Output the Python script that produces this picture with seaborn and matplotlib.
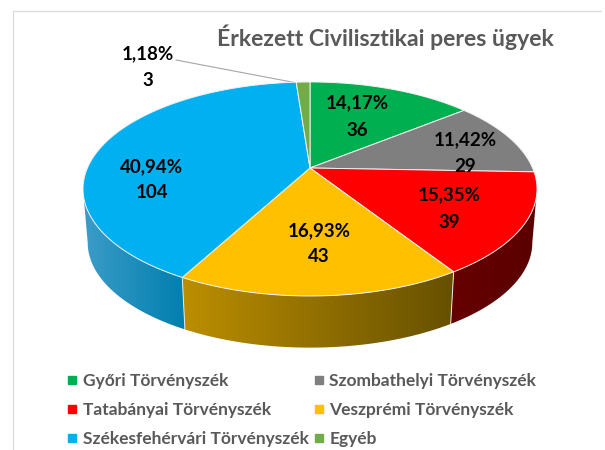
import numpy as np
import matplotlib
matplotlib.use('Agg')
import matplotlib.pyplot as plt
from matplotlib.patches import Polygon
from matplotlib.lines import Line2D
import seaborn as sns

title = 'Érkezett Civilisztikai peres ügyek'
courts = ['Győri Törvényszék', 'Szombathelyi Törvényszék', 'Tatabányai Törvényszék',
          'Veszprémi Törvényszék', 'Székesfehérvári Törvényszék', 'Egyéb']
counts = [36, 29, 39, 43, 104, 3]
percents = ['14,17%', '11,42%', '15,35%', '16,93%', '40,94%', '1,18%']
colors = ['#00B050', '#7F7F7F', '#FF0000', '#FFC000', '#00B0F0', '#70AD47']
# left and right shade of the pie's rim
side_left = ['#00B050', '#7F7F7F', '#660000', '#BC8E00', '#3C9CC8', '#70AD47']
side_right = ['#00B050', '#7F7F7F', '#5A0000', '#665000', '#007FAE', '#70AD47']

W, H = 605, 450
CX, CY = 310, 168
PERSP = 0.196


def rim(t, bottom=False):
    # circle seen in perspective, t clockwise from the back of the pie
    w = 1 + PERSP * np.cos(t)
    if bottom:
        return CX + 218 * np.sin(t) / w, CY + 54 - 101 * np.cos(t) / w
    return CX + 222.6 * np.sin(t) / w, CY - 102.9 * np.cos(t) / w


sns.set_theme(style='white')
plt.rcParams['font.family'] = ['Lato', 'DejaVu Sans']

fig = plt.figure(figsize=(W / 100, H / 100), dpi=100)
ax = fig.add_axes([0, 0, 1, 1])
ax.set_xlim(0, W)
ax.set_ylim(H, 0)
ax.axis('off')

palette = sns.color_palette(colors)
edges = np.cumsum([0] + counts) / sum(counts) * 2 * np.pi
# where the outline of the pie is widest, the rim starts there
t_side = np.pi / 2 + np.arcsin(PERSP)

for i in range(len(counts)):
    a = max(edges[i], t_side)
    b = min(edges[i + 1], 2 * np.pi - t_side)
    if a >= b:
        continue
    t = np.linspace(a, b, 80)
    xt, yt = rim(t)
    xb, yb = rim(t, bottom=True)
    pts = np.vstack([np.column_stack([xt, yt]), np.column_stack([xb, yb])[::-1]])
    patch = Polygon(pts, closed=True, fc='none', ec='none')
    ax.add_patch(patch)
    grad = np.linspace(0, 1, 256)[None, :, None]
    c0 = np.array(matplotlib.colors.to_rgb(side_left[i]))
    c1 = np.array(matplotlib.colors.to_rgb(side_right[i]))
    im = ax.imshow(c0 + (c1 - c0) * grad, aspect='auto', zorder=2,
                   extent=[pts[:, 0].min(), pts[:, 0].max(), pts[:, 1].max(), pts[:, 1].min()])
    im.set_clip_path(patch)
    if edges[i + 1] < 2 * np.pi - t_side:
        ax.plot([xt[-1], xb[-1]], [yt[-1], yb[-1]], color='#E8E8E8', lw=0.7, zorder=3)
ax.set_xlim(0, W)
ax.set_ylim(H, 0)

# top of the pie
for i in range(len(counts)):
    t = np.linspace(edges[i], edges[i + 1], 120)
    x, y = rim(t)
    pts = np.vstack([[CX, CY], np.column_stack([x, y])])
    ax.add_patch(Polygon(pts, closed=True, fc=palette[i], ec='#F2F2F2', lw=0.7, zorder=4))

# data labels
label_x = [357, 465, 449, 319, 152, 148]
label_y = [103, 140, 195, 231, 167, 54]
count_y = [131, 166, 222, 257, 193, 80]
for i in range(6):
    ax.text(label_x[i], label_y[i], percents[i], ha='center', va='center', fontsize=13.5,
            fontweight='bold', color='black', zorder=5)
    ax.text(label_x[i], count_y[i], str(counts[i]), ha='center', va='center', fontsize=13.5,
            fontweight='bold', color='black', zorder=5)
ax.plot([176, 297], [60, 83], color='#A6A6A6', lw=0.8, zorder=3)

ax.text(385.5, 37, title, ha='center', va='center', fontsize=16.6, fontweight='bold', color='#595959')

# chart frame, open on the right
ax.plot([13, 13, 601], [H, 10.5, 10.5], color='#DADADA', lw=0.9)

handles = [Line2D([], [], ls='', marker='s', ms=6, color=palette[i]) for i in [0, 2, 4, 1, 3, 5]]
labels = [courts[i] for i in [0, 2, 4, 1, 3, 5]]
fig.legend(handles, labels, ncol=2, loc='lower left', bbox_to_anchor=(48 / W, -11 / H),
           frameon=False, labelcolor='#595959', handletextpad=0.0, columnspacing=0.0,
           labelspacing=0.76, borderpad=0.3, handlelength=1.2,
           prop={'size': 12.5, 'weight': 'bold'})

fig.savefig('out.png', dpi=100)
